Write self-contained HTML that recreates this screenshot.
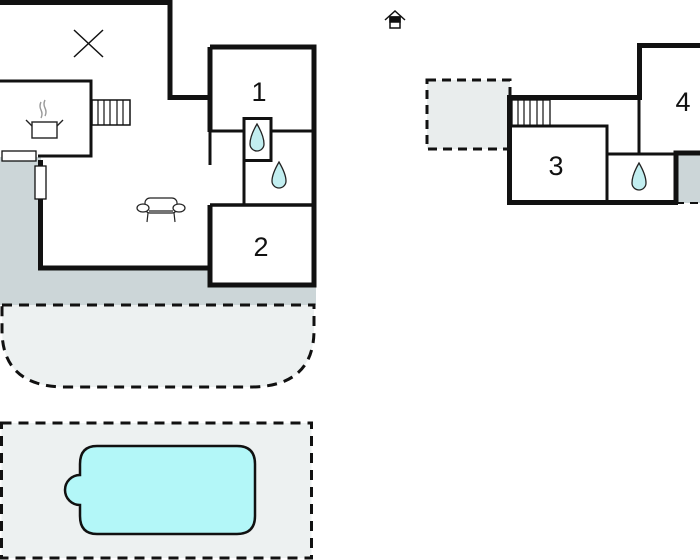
<!DOCTYPE html>
<html><head><meta charset="utf-8"><style>html,body{margin:0;padding:0;background:#fff;}svg{display:block}</style></head>
<body>
<svg width="700" height="560" viewBox="0 0 700 560" xmlns="http://www.w3.org/2000/svg" font-family="Liberation Sans, sans-serif">
<rect x="0" y="155" width="316" height="150" fill="#ccd6d8"/>
<path d="M2 305 L314 305 L314 330 Q314 387 250 387 L66 387 Q2 387 2 330 Z" fill="#edf1f1" stroke="#111" stroke-width="3" stroke-dasharray="10,7"/>
<rect x="1.5" y="423" width="310" height="135" fill="#edf1f1" stroke="#111" stroke-width="3" stroke-dasharray="10,7"/>
<path d="M97 446 L237 446 Q255 446 255 464 L255 516 Q255 534 237 534 L97 534 Q80 534 80 516 L80 505 A15 15 0 0 1 80 475 L80 464 Q80 446 97 446 Z" fill="#b3f7f8" stroke="#111" stroke-width="2.5"/>

<path d="M0 0 L170 0 L170 97 L210 97 L210 47 L314 47 L314 283 L210 283 L210 268 L41 268 L41 157 L0 157 Z" fill="#fff"/>
<g stroke="#111" fill="none">
<path d="M0 2.5 L170 2.5 L170 97.5 L210 97.5" stroke-width="5"/>
<path d="M210 47 L314 47 L314 285 L210 285 L210 205" stroke-width="5"/>
<path d="M210 268 L40.5 268 L40.5 160" stroke-width="5"/>
<path d="M210 47 L210 132" stroke-width="5"/>
<path d="M0 81 L91 81 L91 156 L38 156" stroke-width="3"/>
<path d="M210 205 L314 205" stroke-width="3.5"/>
<path d="M210 131 L243 131 M271 131 L313 131" stroke-width="3"/>
<path d="M210 131 L210 165" stroke-width="3"/>
<rect x="244" y="118.5" width="27" height="42" stroke-width="3"/>
<path d="M244 160 L244 205" stroke-width="3"/>
<path d="M74 30 L103 57 M103 30 L74 57" stroke-width="1.5"/>
<rect x="92" y="100" width="38" height="25" stroke-width="1.5"/>
<path d="M98 100V125M104 100V125M110 100V125M117 100V125M123 100V125" stroke-width="1.2"/>
</g>
<rect x="2" y="151" width="34" height="10" fill="#fff" stroke="#111" stroke-width="1.3"/>
<rect x="35" y="166" width="11" height="33" fill="#fff" stroke="#111" stroke-width="1.3"/>
<g stroke="#222" fill="none" stroke-width="1.4">
<rect x="32" y="122" width="25" height="16" fill="#fff"/>
<path d="M26 120 L32 126 M63 120 L57 126"/>
<path d="M41 102 q-2 4 0 8 q2 4 0 8 M45 100 q-2 4 0 8 q2 4 0 8" stroke="#999"/>
</g>
<g stroke="#222" fill="#fff" stroke-width="1.2">
<rect x="145" y="198" width="32" height="15" rx="5"/>
<ellipse cx="143" cy="208" rx="6" ry="4"/>
<ellipse cx="179" cy="208" rx="6" ry="4"/>
<path d="M148 213 L147 222 M174 213 L175 222 M149 211 L173 211" fill="none"/>
</g>
<path d="M257 124 Q264 136 264 144 A7 7 0 0 1 250 144 Q250 136 257 124 Z" fill="#c2eef0" stroke="#222" stroke-width="1.3"/>
<path d="M279 162 Q286 174 286 181 A7 7 0 0 1 272 181 Q272 174 279 162 Z" fill="#c2eef0" stroke="#222" stroke-width="1.3"/>
<text x="259" y="101" font-size="27" text-anchor="middle" fill="#111">1</text>
<text x="261" y="256" font-size="27" text-anchor="middle" fill="#111">2</text>

<rect x="427" y="80" width="83" height="69" fill="#e9eded" stroke="#111" stroke-width="3" stroke-dasharray="9,6"/>
<rect x="676" y="153" width="24" height="50" fill="#ccd6d8"/>
<path d="M510 97 L640 97 L640 45 L700 45 L700 153 L676 153 L676 202 L510 202 Z" fill="#fff"/>
<g stroke="#111" fill="none">
<path d="M509.5 205 L509.5 97.5 L639.5 97.5 L639.5 45.5 L700 45.5" stroke-width="5"/>
<path d="M507 202.5 L678 202.5" stroke-width="5"/>
<path d="M676 202 L676 153 L700 153" stroke-width="5"/>
<path d="M512 126 L607 126 L607 202" stroke-width="3"/>
<path d="M607 154 L676 154" stroke-width="3"/>
<path d="M639 97 L639 154" stroke-width="3"/>
<rect x="512" y="100" width="38" height="26" stroke-width="1.3"/>
<path d="M518 100V126M524 100V126M530 100V126M537 100V126M543 100V126" stroke-width="1.2"/>
<path d="M676 203 L700 203" stroke-width="2" stroke-dasharray="8,6"/>
</g>
<path d="M639 163 Q646 175 646 183 A7 7 0 0 1 632 183 Q632 175 639 163 Z" fill="#c2eef0" stroke="#222" stroke-width="1.3"/>
<text x="556" y="175" font-size="27" text-anchor="middle" fill="#111">3</text>
<text x="683" y="111" font-size="27" text-anchor="middle" fill="#111">4</text>
<g stroke="#111" fill="none" stroke-width="1.5">
<path d="M385 20 L395 11 L405 20"/>
<rect x="390" y="17" width="10" height="11" fill="#fff"/>
<rect x="390" y="17" width="10" height="5" fill="#111"/>
</g>
</svg>
</body></html>
